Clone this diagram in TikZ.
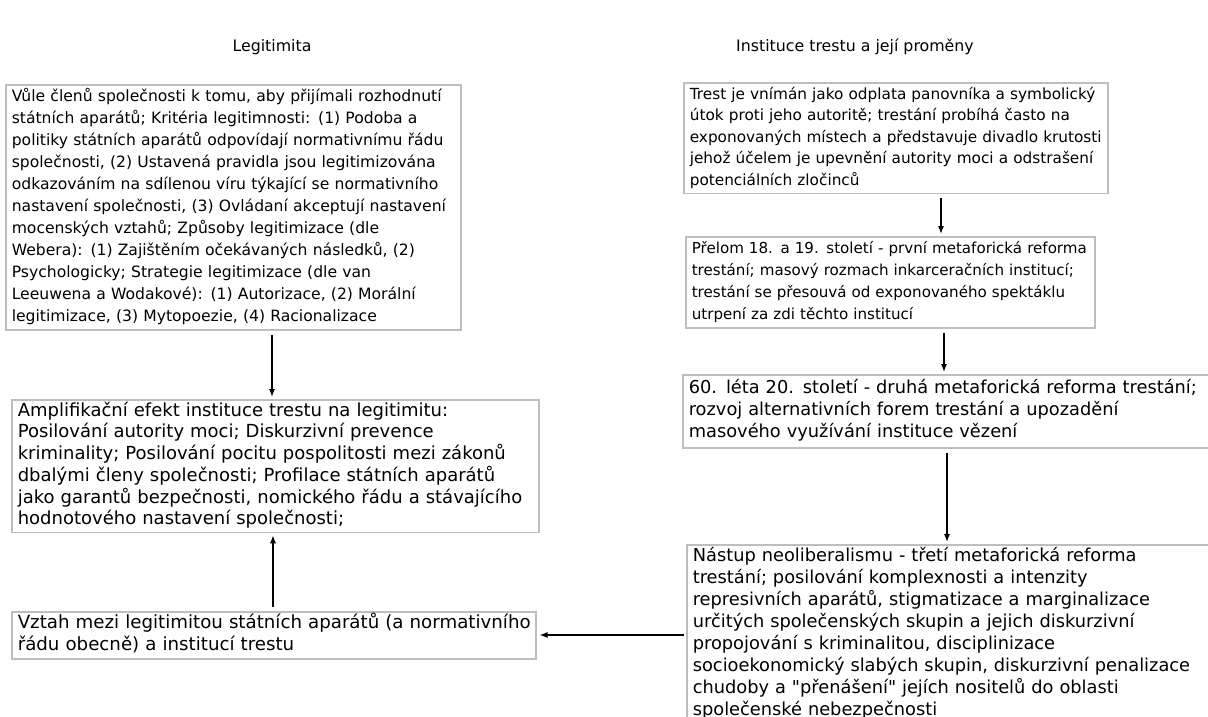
\documentclass[tikz,border=0pt]{standalone}
\usepackage{fontspec}
\setmainfont{DejaVu Sans}[Ligatures=TeXOff]
\usetikzlibrary{arrows.meta}
\definecolor{boxgray}{RGB}{190,190,190}
% a block of lines that never rewraps
\newcommand{\boxlines}[1]{\begin{tabular}{@{}l@{}}#1\end{tabular}}
\newcommand{\fs}[2][22]{\fontsize{#2}{#1}\selectfont}
\tikzset{
  box/.style={draw=boxgray, line width=1.6pt, anchor=north west, align=left,
    inner xsep=6pt, inner ysep=1.5pt},
  heading/.style={font={\fs{15.8}}},
  arr/.style={-{Latex[length=8pt,width=6pt]}, line width=1.2pt,
    shorten <=4pt, shorten >=2pt}
}
\begin{document}
\begin{tikzpicture}[x=1pt,y=-1pt]
\clip (0,0) rectangle (1208,717);
\fill[white] (0,0) rectangle (1208,717);

% column headings
\node[heading] (hL) at (272,47) {Legitimita};
\node[heading] (hR) at (855,47) {Instituce trestu a její proměny};

% left column
\node[box, text width=443pt, font={\fs{15.6}}] (leg) at (5,84) {\boxlines{Vůle členů společnosti k tomu, aby přijímali rozhodnutí\\
státních aparátů; Kritéria legitimnosti: (1) Podoba a\\
politiky státních aparátů odpovídají normativnímu řádu\\
společnosti, (2) Ustavená pravidla jsou legitimizována\\
odkazováním na sdílenou víru týkající se normativního\\
nastavení společnosti, (3) Ovládaní akceptují nastavení\\
mocenských vztahů; Způsoby legitimizace (dle\\
Webera): (1) Zajištěním očekávaných následků, (2)\\
Psychologicky; Strategie legitimizace (dle van\\
Leeuwena a Wodakové): (1) Autorizace, (2) Morální\\
legitimizace, (3) Mytopoezie, (4) Racionalizace}};

\node[box, text width=515pt, font={\fs[21.5]{18}}] (amp) at (11,399) {\boxlines{Amplifikační efekt instituce trestu na legitimitu:\\
Posilování autority moci; Diskurzivní prevence\\
kriminality; Posilování pocitu pospolitosti mezi zákonů\\
dbalými členy společnosti; Profilace státních aparátů\\
jako garantů bezpečnosti, nomického řádu a stávajícího\\
hodnotového nastavení společnosti;}};

\node[box, text width=512pt, font={\fs{18.2}}] (vztah) at (11,611) {\boxlines{Vztah mezi legitimitou státních aparátů (a normativního\\
řádu obecně) a institucí trestu}};

% right column
\node[box, text width=412pt, font={\fs[21.5]{15.3}}] (trest) at (683,82) {\boxlines{Trest je vnímán jako odplata panovníka a symbolický\\
útok proti jeho autoritě; trestání probíhá často na\\
exponovaných místech a představuje divadlo krutosti\\
jehož účelem je upevnění autority moci a odstrašení\\
potenciálních zločinců}};

\node[box, text width=397pt, font={\fs{15.1}}] (prelom) at (685,236) {\boxlines{Přelom 18. a 19. století - první metaforická reforma\\
trestání; masový rozmach inkarceračních institucí;\\
trestání se přesouvá od exponovaného spektáklu\\
utrpení za zdi těchto institucí}};

\node[box, text width=540pt, inner ysep=3.5pt, font={\fs{17.8}}] (sedes) at (682,374) {\boxlines{60. léta 20. století - druhá metaforická reforma trestání;\\
rozvoj alternativních forem trestání a upozadění\\
masového využívání instituce vězení}};

\node[box, text width=540pt, font={\fs{17.8}}] (nastup) at (686,544) {\boxlines{Nástup neoliberalismu - třetí metaforická reforma\\
trestání; posilování komplexnosti a intenzity\\
represivních aparátů, stigmatizace a marginalizace\\
určitých společenských skupin a jejich diskurzivní\\
propojování s kriminalitou, disciplinizace\\
socioekonomický slabých skupin, diskurzivní penalizace\\
chudoby a "přenášení" jejích nositelů do oblasti\\
společenské nebezpečnosti}};

% connectors
\draw[arr] (leg.south -| 272,0) -- (amp.north -| 272,0);
\draw[arr] (vztah.north -| 273,0) -- (amp.south -| 273,0);
\draw[arr] (trest.south -| 941,0) -- (prelom.north -| 941,0);
\draw[arr] (prelom.south -| 944,0) -- (sedes.north -| 944,0);
\draw[arr] (sedes.south -| 947,0) -- (nastup.north -| 947,0);
\draw[arr, shorten <=2pt, shorten >=3pt] (nastup.west |- 0,635) -- (vztah.east |- 0,635);
\end{tikzpicture}
\end{document}
